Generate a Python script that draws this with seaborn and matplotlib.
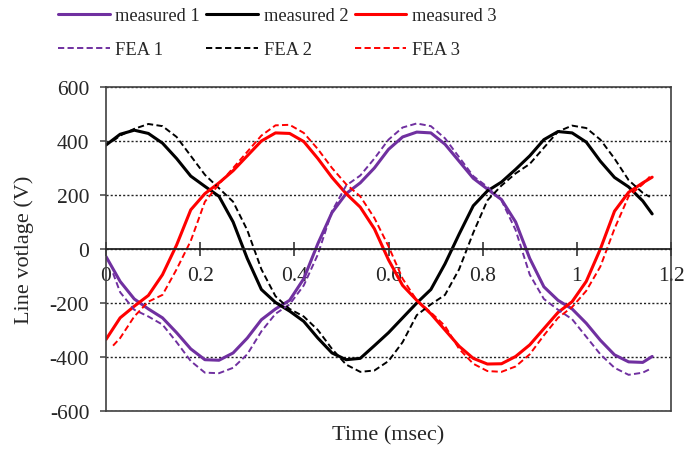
import numpy as np
import pandas as pd
import matplotlib
matplotlib.use("Agg")
import matplotlib.pyplot as plt
import seaborn as sns

# ---- data ----
t_meas = [0.00, 0.03, 0.06, 0.09, 0.12, 0.15, 0.18, 0.21, 0.24, 0.27,
          0.30, 0.33, 0.36, 0.39, 0.42, 0.45, 0.48, 0.51, 0.54, 0.57,
          0.60, 0.63, 0.66, 0.69, 0.72, 0.75, 0.78, 0.81, 0.84, 0.87,
          0.90, 0.93, 0.96, 0.99, 1.02, 1.05, 1.08, 1.11, 1.14, 1.16]
measured_1 = [-28, -120, -185, -222, -255, -310, -370, -410, -412, -385,
              -330, -262, -222, -190, -110, 20, 135, 205, 245, 300,
              369, 415, 433, 430, 388, 325, 262, 222, 183, 100,
              -35, -140, -190, -222, -275, -338, -392, -418, -420, -398]
measured_2 = [385, 425, 440, 428, 392, 335, 270, 232, 195, 100,
              -35, -150, -198, -230, -268, -330, -385, -410, -405, -358,
              -310, -255, -200, -150, -55, 55, 160, 215, 248, 295,
              345, 405, 435, 430, 396, 325, 265, 230, 178, 130]
measured_3 = [-335, -255, -212, -172, -95, 15, 145, 205, 245, 290,
              345, 400, 430, 428, 398, 335, 265, 205, 155, 75,
              -40, -135, -190, -240, -300, -360, -405, -426, -425, -398,
              -355, -295, -235, -195, -120, 0, 140, 210, 245, 266]

t_fea = [0.015, 0.03, 0.06, 0.09, 0.12, 0.15, 0.18, 0.21, 0.24, 0.27,
         0.30, 0.33, 0.36, 0.39, 0.42, 0.45, 0.48, 0.51, 0.54, 0.57,
         0.60, 0.63, 0.66, 0.69, 0.72, 0.75, 0.78, 0.81, 0.84, 0.87,
         0.90, 0.93, 0.96, 0.99, 1.02, 1.05, 1.08, 1.11, 1.14, 1.155]
fea_1 = [-90, -160, -225, -250, -280, -345, -415, -458, -460, -440,
         -390, -305, -240, -205, -135, -20, 140, 235, 272, 335,
         405, 450, 465, 455, 410, 340, 270, 230, 180, 70,
         -95, -185, -225, -260, -325, -390, -440, -466, -458, -445]
fea_2 = [400, 420, 445, 463, 455, 415, 345, 275, 225, 175,
         70, -75, -175, -222, -250, -300, -370, -428, -455, -450,
         -415, -345, -245, -205, -170, -75, 60, 180, 235, 280,
         315, 375, 435, 457, 448, 405, 335, 255, 208, 193]
fea_3 = [-358, -330, -250, -195, -170, -75, 30, 175, 240, 300,
         360, 420, 458, 460, 430, 370, 300, 240, 195, 115,
         10, -110, -190, -235, -285, -370, -425, -452, -455, -435,
         -390, -320, -255, -215, -155, -65, 75, 195, 240, 268]

x_ticks = [0, 0.2, 0.4, 0.6, 0.8, 1.0, 1.2]
x_tick_labels = ["0", "0.2", "0.4", "0.6", "0.8", "1", "1.2"]
y_ticks = [-600, -400, -200, 0, 200, 400, 600]

PURPLE = "#7030A0"
BLACK = "#000000"
RED = "#FF0000"

# ---- style ----
sns.set_theme(style="white")
plt.rcParams["font.family"] = ["Liberation Serif", "DejaVu Serif"]
plt.rcParams["axes.unicode_minus"] = False

fig = plt.figure(figsize=(6.84, 4.52), dpi=100)
ax = fig.add_axes([106 / 684, 1 - 412 / 452, (671 - 106) / 684, (412 - 88) / 452])

meas = pd.DataFrame({"t": t_meas, "m1": measured_1, "m2": measured_2, "m3": measured_3})
fea = pd.DataFrame({"t": t_fea, "f1": fea_1, "f2": fea_2, "f3": fea_3})

dash = (0, (3.2, 1.7))
for col, color, lab in [("m1", PURPLE, "measured 1"), ("m2", BLACK, "measured 2"), ("m3", RED, "measured 3")]:
    sns.lineplot(data=meas, x="t", y=col, ax=ax, color=color, lw=2.2, estimator=None,
                 label=lab, legend=False)
for col, color, lab in [("f1", PURPLE, "FEA 1"), ("f2", BLACK, "FEA 2"), ("f3", RED, "FEA 3")]:
    sns.lineplot(data=fea, x="t", y=col, ax=ax, color=color, lw=1.4, estimator=None,
                 linestyle=dash, label=lab, legend=False)

lines = ax.get_lines()
handles = [lines[0], lines[3], lines[1], lines[4], lines[2], lines[5]]
labels = ["measured 1", "FEA 1", "measured 2", "FEA 2", "measured 3", "FEA 3"]

ax.set_xlim(0, 1.2)
ax.set_ylim(-600, 600)
ax.set_xticks(x_ticks)
ax.set_xticklabels(x_tick_labels)
ax.set_yticks(y_ticks)
ax.set_yticklabels([str(v) for v in y_ticks])

# grid: dotted horizontal lines
ax.yaxis.grid(True, color="#222222", linestyle=(0, (1.5, 1.5)), lw=1.0)
ax.xaxis.grid(False)

# spines: frame + x axis through zero
for s in ["top", "right", "left"]:
    ax.spines[s].set_color("#404040")
    ax.spines[s].set_linewidth(1.2)
ax.spines["bottom"].set_position(("data", 0))
ax.spines["bottom"].set_color("#222222")
ax.spines["bottom"].set_linewidth(1.3)
ax.plot([0, 1], [0, 0], transform=ax.transAxes, color="#404040", lw=1.2, clip_on=False, zorder=5)

ax.tick_params(axis="x", direction="inout", length=10, width=1.1, color="#222222",
               pad=7, labelsize=15.5, bottom=True)
ax.tick_params(axis="y", direction="out", length=4, width=1.1, color="#404040",
               pad=8, labelsize=15.5, left=True)

ax.set_xlabel("Time (msec)", fontsize=16)
ax.set_ylabel("Line votlage (V)", fontsize=16)
ax.xaxis.set_label_coords(0.5, -0.045)
ax.yaxis.set_label_coords(-0.128, 0.5)

fig.legend(handles, labels, ncol=3, loc="upper left",
           bbox_to_anchor=(58 / 684, 1 - 8 / 452), frameon=False, fontsize=13.3,
           handlelength=2.8, handletextpad=0.3, columnspacing=0.35,
           labelspacing=0.92, borderpad=0, borderaxespad=0)

fig.savefig("out.png", dpi=100)
